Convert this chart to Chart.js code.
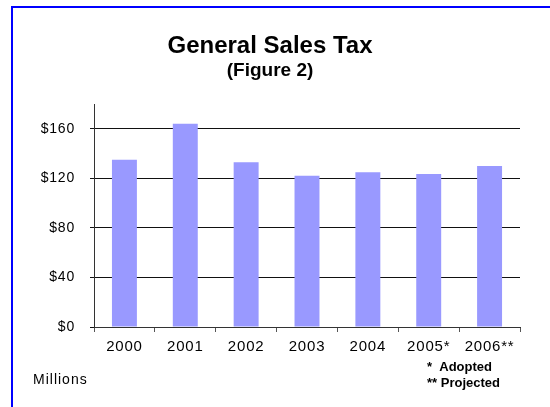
<!DOCTYPE html>
<html>
<head>
<meta charset="utf-8">
<script src="https://cdn.jsdelivr.net/npm/chart.js@4"></script>
<style>
  html, body { margin: 0; padding: 0; background: #fff; }
  #wrap { width: 550px; height: 407px; position: relative; }
</style>
</head>
<body>
<div id="wrap"><canvas id="salesTax"></canvas></div>
<script>
const years = ['2000', '2001', '2002', '2003', '2004', '2005*', '2006**'];
const salesTax = [135, 164, 133, 122, 125, 123.5, 130];
const yTicks = [0, 40, 80, 120, 160];

// frame, titles and notes drawn straight on the canvas
const extras = {
  id: 'extras',
  beforeDraw(chart) {
    const c = chart.ctx;
    c.save();
    c.fillStyle = '#fff';
    c.fillRect(0, 0, chart.width, chart.height);
    c.restore();
    c.letterSpacing = '0.8px'; // excel-ish wide tick labels
  },
  afterDraw(chart) {
    const c = chart.ctx;
    c.save();
    c.letterSpacing = '0px';
    c.fillStyle = '#0000ff';
    c.fillRect(11, 6, 539, 2);
    c.fillRect(11, 6, 2, 401);

    c.fillStyle = '#000';
    c.textAlign = 'center';
    c.textBaseline = 'alphabetic';
    c.font = 'bold 24px "Liberation Sans", Arial, sans-serif';
    c.fillText('General Sales Tax', 270, 53);
    c.font = 'bold 19px "Liberation Sans", Arial, sans-serif';
    c.fillText('(Figure 2)', 270, 76);

    c.textAlign = 'left';
    c.font = 'bold 13px "Liberation Sans", Arial, sans-serif';
    c.fillText('*  Adopted', 427, 371);
    c.fillText('** Projected', 427, 387);

    c.font = '14px "Liberation Sans", Arial, sans-serif';
    c.letterSpacing = '1px';
    c.fillText('Millions', 33, 384);
    c.restore();
  },
};

const ctx = document.getElementById('salesTax');
new Chart(ctx, {
  type: 'bar',
  data: {
    labels: years,
    datasets: [
      {
        label: 'General Sales Tax',
        data: salesTax,
        backgroundColor: '#9999ff',
        categoryPercentage: 1,
        barPercentage: 0.41,
      },
    ],
  },
  options: {
    responsive: true,
    maintainAspectRatio: false,
    animation: false,
    layout: { padding: { top: 104, right: 30, bottom: 0, left: 12 } },
    plugins: { legend: { display: false }, tooltip: { enabled: false } },
    scales: {
      x: {
        grid: {
          offset: true,
          drawOnChartArea: false,
          drawTicks: true,
          tickLength: 5,
          color: '#555',
        },
        border: { color: '#333', width: 1 },
        ticks: {
          color: '#000',
          padding: 6,
          maxRotation: 0,
          font: { family: '"Liberation Sans", Arial, sans-serif', size: 15 },
        },
        afterFit(scale) {
          scale.height = 80;
        },
      },
      y: {
        min: 0,
        max: 180,
        afterBuildTicks(scale) {
          scale.ticks = yTicks.map((v) => ({ value: v }));
        },
        grid: {
          color: (c) => (c.tick && c.tick.value === 0 ? 'transparent' : '#111'),
          tickColor: '#111',
          tickLength: 4,
        },
        border: { color: '#333', width: 1 },
        ticks: {
          color: '#000',
          padding: 15,
          callback: (v) => '$' + v,
          font: { family: '"Liberation Sans", Arial, sans-serif', size: 14 },
        },
        afterFit(scale) {
          scale.width = 82;
        },
      },
    },
  },
  plugins: [extras],
});
</script>
</body>
</html>
